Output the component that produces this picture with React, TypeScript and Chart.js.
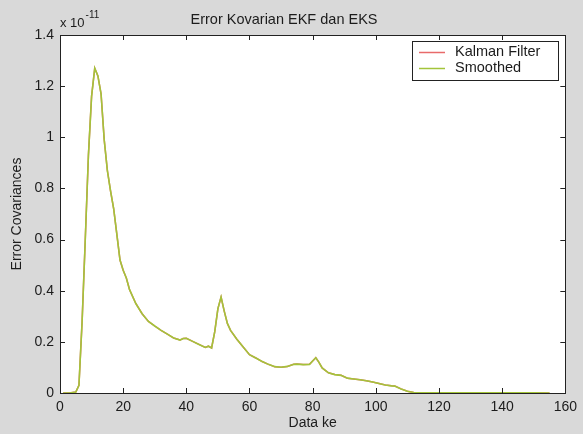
import React, { useEffect, useRef } from "react";
import { Chart, registerables } from "chart.js";

Chart.register(...registerables);

// ---- data (values in units of 1e-11) ----
const dataIndex = [1, 3, 5, 6, 7, 8, 9, 10, 11, 12, 13, 14, 15, 16, 17, 18, 19, 20, 21, 22, 24, 26, 28, 30, 32, 34, 36, 38, 39, 40, 42, 44, 46, 47, 48, 49, 50, 51, 52, 53, 54, 56, 58, 60, 62, 64, 66, 68, 70, 72, 74, 75, 77, 79, 80, 81, 82, 83, 85, 87, 89, 91, 93, 95, 97, 99, 101, 103, 105, 106, 108, 110, 112, 114, 120, 130, 140, 150, 155];
const kalmanValues = [0, 0, 0.004, 0.03, 0.28, 0.6, 0.93, 1.16, 1.27, 1.24, 1.17, 0.99, 0.87, 0.79, 0.72, 0.62, 0.52, 0.48, 0.45, 0.405, 0.35, 0.31, 0.28, 0.262, 0.245, 0.23, 0.215, 0.207, 0.213, 0.214, 0.202, 0.19, 0.178, 0.183, 0.176, 0.24, 0.33, 0.375, 0.32, 0.272, 0.245, 0.21, 0.18, 0.15, 0.137, 0.123, 0.112, 0.103, 0.101, 0.104, 0.112, 0.113, 0.111, 0.112, 0.125, 0.138, 0.12, 0.098, 0.079, 0.072, 0.069, 0.058, 0.055, 0.052, 0.048, 0.043, 0.037, 0.031, 0.028, 0.027, 0.016, 0.007, 0.002, 0.001, 0.001, 0.0005, 0.001, 0.0005, 0];
const smoothedValues = [0, 0, 0.004, 0.03, 0.28, 0.6, 0.93, 1.16, 1.27, 1.24, 1.17, 0.99, 0.87, 0.79, 0.72, 0.62, 0.52, 0.48, 0.45, 0.405, 0.35, 0.31, 0.28, 0.262, 0.245, 0.23, 0.215, 0.207, 0.213, 0.214, 0.202, 0.19, 0.178, 0.183, 0.176, 0.24, 0.33, 0.375, 0.32, 0.272, 0.245, 0.21, 0.18, 0.15, 0.137, 0.123, 0.112, 0.103, 0.101, 0.104, 0.112, 0.113, 0.111, 0.112, 0.125, 0.138, 0.12, 0.098, 0.079, 0.072, 0.069, 0.058, 0.055, 0.052, 0.048, 0.043, 0.037, 0.031, 0.028, 0.027, 0.016, 0.007, 0.002, 0.001, 0.001, 0.0005, 0.001, 0.0005, 0];
const seriesLabels = ["Kalman Filter", "Smoothed"];
const yTickLabels = ["0", "0.2", "0.4", "0.6", "0.8", "1", "1.2", "1.4"];
const xTickLabels = ["0", "20", "40", "60", "80", "100", "120", "140", "160"];

const TITLE = "Error Kovarian EKF dan EKS";
const X_TITLE = "Data ke";
const Y_TITLE = "Error Covariances";

const FONT = "'Liberation Sans', Arial, Helvetica, sans-serif";
const BG = "#d9d9d9";
const TEXT = "#1c1c1c";
const RED = "#e86a6a";
const GREEN = "#a3c43a";

const matlabPlugin = {
  id: "matlabLook",
  beforeDraw(chart: any) {
    const { ctx, chartArea: a, width, height } = chart;
    ctx.save();
    ctx.fillStyle = BG;
    ctx.fillRect(0, 0, width, height);
    ctx.fillStyle = "#ffffff";
    ctx.fillRect(a.left, a.top, a.right - a.left, a.bottom - a.top);
    ctx.restore();
  },
  afterDatasetsDraw(chart: any) {
    const { ctx, chartArea: a } = chart;
    const xs = chart.scales.x;
    const ys = chart.scales.y;
    ctx.save();
    ctx.strokeStyle = "#222";
    ctx.lineWidth = 1;
    // frame
    ctx.strokeRect(Math.round(a.left) + 0.5, Math.round(a.top) + 0.5, Math.round(a.right - a.left), Math.round(a.bottom - a.top));
    // inward ticks
    const L = 5;
    ctx.beginPath();
    xs.ticks.forEach((t: any) => {
      const p = Math.round(xs.getPixelForValue(t.value)) + 0.5;
      ctx.moveTo(p, a.bottom);
      ctx.lineTo(p, a.bottom - L);
      ctx.moveTo(p, a.top);
      ctx.lineTo(p, a.top + L);
    });
    ys.ticks.forEach((t: any) => {
      const p = Math.round(ys.getPixelForValue(t.value)) + 0.5;
      ctx.moveTo(a.left, p);
      ctx.lineTo(a.left + L, p);
      ctx.moveTo(a.right, p);
      ctx.lineTo(a.right - L, p);
    });
    ctx.stroke();

    // exponent label
    ctx.fillStyle = TEXT;
    ctx.textBaseline = "middle";
    ctx.textAlign = "left";
    ctx.font = `13px ${FONT}`;
    ctx.fillText("x 10", a.left, a.top - 12);
    const w = ctx.measureText("x 10").width;
    ctx.font = `10px ${FONT}`;
    ctx.fillText("-11", a.left + w + 1, a.top - 20);

    // legend box
    const bx = Math.round(a.right) - 153;
    const by = Math.round(a.top) + 6;
    const bw = 146;
    const bh = 39;
    ctx.fillStyle = "#ffffff";
    ctx.fillRect(bx, by, bw, bh);
    ctx.strokeStyle = "#222";
    ctx.strokeRect(bx + 0.5, by + 0.5, bw, bh);
    ctx.font = `14.5px ${FONT}`;
    chart.data.datasets.forEach((ds: any, i: number) => {
      const yy = by + 11 + i * 16;
      ctx.strokeStyle = ds.borderColor;
      ctx.lineWidth = 1.5;
      ctx.beginPath();
      ctx.moveTo(bx + 7, yy + 0.5);
      ctx.lineTo(bx + 33, yy + 0.5);
      ctx.stroke();
      ctx.fillStyle = TEXT;
      ctx.fillText(ds.label, bx + 43, yy);
    });
    ctx.restore();
  },
};

export default function App() {
  const ref = useRef<HTMLCanvasElement | null>(null);

  useEffect(() => {
    document.body.style.margin = "0";
    const canvas = ref.current;
    if (!canvas) return;
    const toPoints = (vals: number[]) => dataIndex.map((x, i) => ({ x, y: vals[i] }));
    const chart = new Chart(canvas, {
      type: "line",
      data: {
        datasets: [
          {
            label: seriesLabels[0],
            data: toPoints(kalmanValues),
            borderColor: RED,
            borderWidth: 1.5,
            pointRadius: 0,
            tension: 0,
            fill: false,
            order: 2,
          },
          {
            label: seriesLabels[1],
            data: toPoints(smoothedValues),
            borderColor: GREEN,
            borderWidth: 1.6,
            pointRadius: 0,
            tension: 0,
            fill: false,
            order: 1,
          },
        ],
      },
      options: {
        animation: false,
        responsive: false,
        devicePixelRatio: 1,
        layout: { padding: { top: 0, right: 15, bottom: 0, left: 0 } },
        plugins: {
          legend: { display: false },
          tooltip: { enabled: false },
          title: {
            display: true,
            text: TITLE,
            color: TEXT,
            font: { family: FONT, size: 14.5, weight: "normal" },
            padding: { top: 11.3, bottom: 6.3 },
          },
        },
        scales: {
          x: {
            type: "linear",
            min: 0,
            max: 160,
            grid: { display: false, drawTicks: false },
            border: { display: false },
            ticks: {
              stepSize: 20,
              padding: 6,
              color: TEXT,
              font: { family: FONT, size: 14 },
              maxRotation: 0,
              callback: (v: any, i: number) => xTickLabels[i] ?? String(v),
            },
            title: {
              display: true,
              text: X_TITLE,
              color: TEXT,
              font: { family: FONT, size: 14 },
              padding: { top: 0, bottom: 2 },
            },
            afterFit: (s: any) => {
              s.height = 41;
            },
          },
          y: {
            type: "linear",
            min: 0,
            max: 1.4,
            grid: { display: false, drawTicks: false },
            border: { display: false },
            ticks: {
              stepSize: 0.2,
              padding: 6,
              color: TEXT,
              font: { family: FONT, size: 14 },
              callback: (v: any, i: number) => yTickLabels[i] ?? String(v),
            },
            title: {
              display: true,
              text: Y_TITLE,
              color: TEXT,
              font: { family: FONT, size: 14 },
              padding: { top: 9, bottom: 0 },
            },
            afterFit: (s: any) => {
              s.width = 60;
            },
          },
        },
      } as any,
      plugins: [matlabPlugin],
    });
    return () => chart.destroy();
  }, []);

  return (
    <div style={{ width: 583, height: 434 }}>
      <canvas ref={ref} width={583} height={434} style={{ display: "block" }} />
    </div>
  );
}
